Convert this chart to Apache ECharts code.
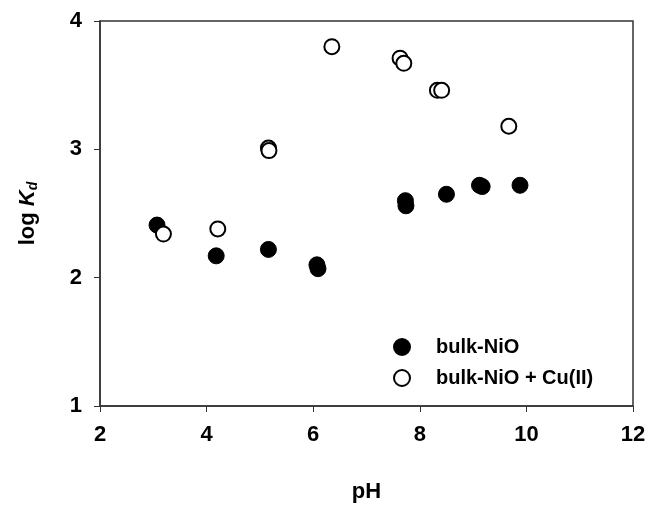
<!DOCTYPE html>
<html>
<head>
<meta charset="utf-8">
<script src="https://cdn.jsdelivr.net/npm/echarts@6/dist/echarts.min.js"></script>
<style>
  html, body { margin: 0; padding: 0; background: #fff; }
  #chart { width: 652px; height: 508px; }
</style>
</head>
<body>
<div id="chart"></div>
<script>
// bulk-NiO (filled circles)
var niO_pH  = [3.07, 4.18, 5.16, 6.07, 6.09, 7.73, 7.74, 8.50, 9.12, 9.17, 9.88]
var niO_logKd = [2.41, 2.17, 2.22, 2.10, 2.07, 2.60, 2.56, 2.65, 2.72, 2.71, 2.72]

// bulk-NiO + Cu(II) (open circles)
var cu_pH  = [3.19, 4.21, 5.16, 5.17, 6.35, 7.63, 7.70, 8.33, 8.41, 9.67]
var cu_logKd = [2.34, 2.38, 3.01, 2.99, 3.80, 3.71, 3.67, 3.46, 3.46, 3.18]

var seriesNames = ['bulk-NiO', 'bulk-NiO + Cu(II)']

function pairs(xs, ys) {
  var out = []
  for (var i = 0; i < xs.length; i++) out.push([xs[i], ys[i]])
  return out
}

var font = 'Liberation Sans, Arial, sans-serif'
var chart = echarts.init(document.getElementById('chart'))

chart.setOption({
  animation: false,
  backgroundColor: '#fff',
  grid: {
    left: 100, right: 19, top: 21, bottom: 100,
    show: true,
    borderColor: '#333',
    borderWidth: 1.5
  },
  legend: {
    orient: 'vertical',
    left: 388,
    top: 332,
    itemGap: 11,
    itemWidth: 16,
    itemHeight: 16,
    icon: 'circle',
    textStyle: { fontFamily: font, fontWeight: 'bold', fontSize: 20, color: '#000', padding: [0, 0, 0, 21] },
    data: seriesNames
  },
  xAxis: {
    type: 'value',
    min: 2, max: 12, interval: 2,
    name: 'pH',
    nameLocation: 'middle',
    nameGap: 75,
    nameTextStyle: { fontFamily: font, fontWeight: 'bold', fontSize: 22, color: '#000' },
    axisLine: { lineStyle: { color: '#333', width: 1.5 } },
    axisTick: { show: true, length: 6, lineStyle: { color: '#333' } },
    axisLabel: { fontFamily: font, fontWeight: 'bold', fontSize: 22, color: '#000', margin: 18 },
    splitLine: { show: false }
  },
  yAxis: {
    type: 'value',
    min: 1, max: 4, interval: 1,
    name: '{n|log }{k|K}{d|d}',
    nameLocation: 'middle',
    nameGap: 60,
    nameRotate: 90,
    nameTextStyle: {
      rich: {
        n: { fontFamily: font, fontWeight: 'bold', fontSize: 22, color: '#000' },
        k: { fontFamily: font, fontWeight: 'bold', fontStyle: 'italic', fontSize: 22, color: '#000' },
        d: { fontFamily: font, fontWeight: 'bold', fontStyle: 'italic', fontSize: 14, color: '#000', verticalAlign: 'bottom', padding: [11, 0, 0, 0] }
      }
    },
    axisLine: { show: true, lineStyle: { color: '#333', width: 1.5 } },
    axisTick: { show: true, length: 6, lineStyle: { color: '#333' } },
    axisLabel: { fontFamily: font, fontWeight: 'bold', fontSize: 22, color: '#000', margin: 18 },
    splitLine: { show: false }
  },
  series: [
    {
      name: seriesNames[0],
      type: 'scatter',
      symbol: 'circle',
      symbolSize: 16,
      itemStyle: { color: '#000', borderColor: '#000', borderWidth: 1, opacity: 1 },
      data: pairs(niO_pH, niO_logKd)
    },
    {
      name: seriesNames[1],
      type: 'scatter',
      symbol: 'circle',
      symbolSize: 15,
      itemStyle: { color: '#fff', borderColor: '#000', borderWidth: 2, opacity: 1 },
      data: pairs(cu_pH, cu_logKd)
    }
  ]
})
</script>
</body>
</html>
